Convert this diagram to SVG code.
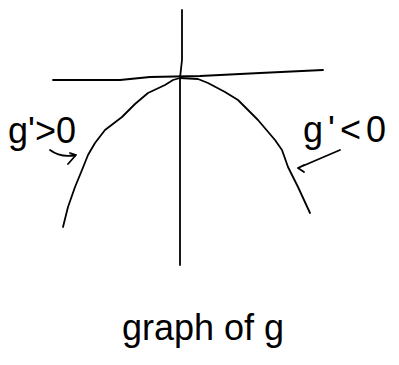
<svg xmlns="http://www.w3.org/2000/svg" width="399" height="365" viewBox="0 0 399 365">
<style>
.s{fill:none;stroke:#000;stroke-width:1.8;stroke-linecap:round;stroke-linejoin:round}
.t{font-family:"Liberation Sans",Arial,sans-serif;font-size:36px;fill:#000}
</style>
<rect width="399" height="365" fill="#fff"/>
<g id="axes">
<path class="s" d="M182,10 L182,60 L180,78 L180,265"/>
<path class="s" d="M53,80 L120,80 L150,77 L200,76 L260,73 L323,70"/>
</g>
<g id="curve">
<path class="s" d="M63,227 L68,207 L75,187 L82,170 L88,155 L95,143 L105,130 L122,117 L135,104 L148,93 L165,85 L173,80 L180,78 L198,79 L208,83 L225,92 L238,100 L258,120 L275,140 L282,150 L288,167 L298,187 L310,213"/>
</g>
<g id="connectors">
<path class="s" d="M50,150 C58,156 66,157 76,155 L68,164 M76,155 L70,153"/>
<path class="s" d="M340,150 L298,168 M298,168 L304,165 M298,168 L304,172"/>
</g>
<g id="label-left"><text class="t" x="8" y="143">g'&gt;0</text></g>
<g id="label-right"><text class="t" x="303" y="142" letter-spacing="5">g'&lt;0</text></g>
<g id="caption"><text class="t" x="122" y="340">graph of g</text></g>
</svg>
